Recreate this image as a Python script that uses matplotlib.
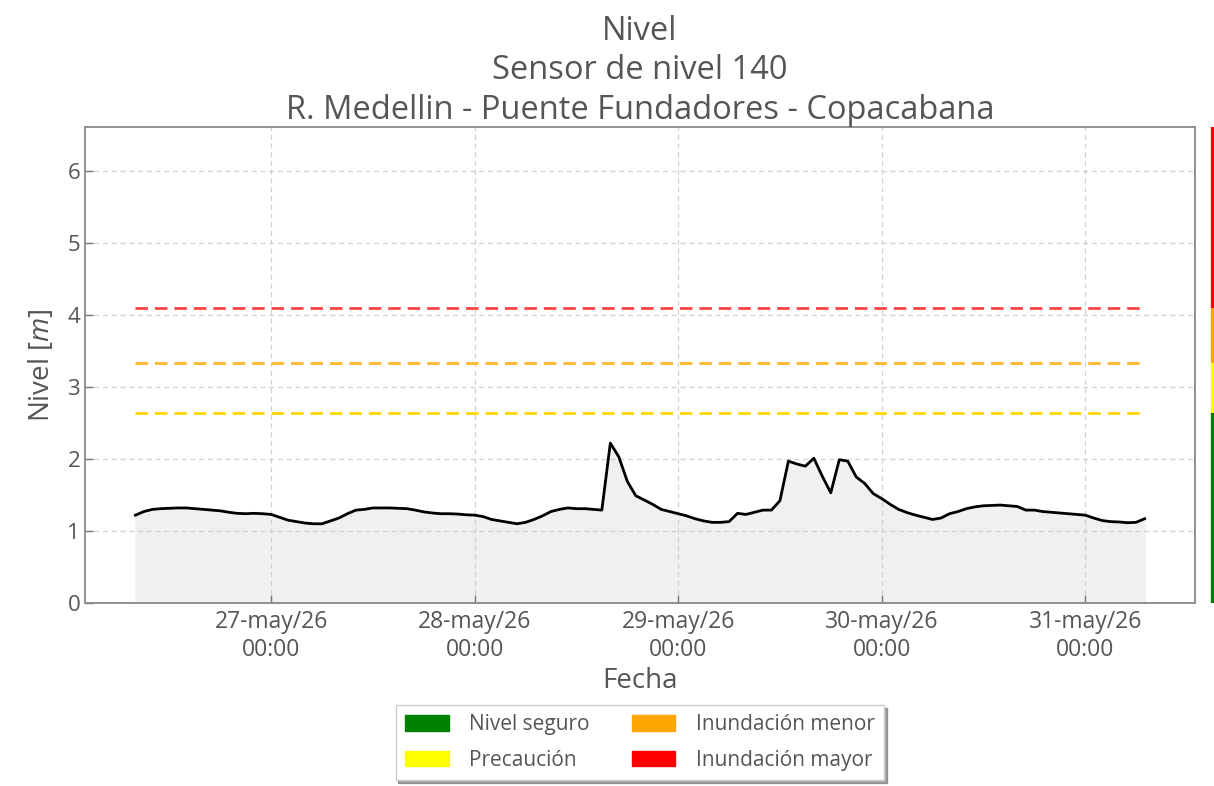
import matplotlib
matplotlib.use("Agg")
import matplotlib.pyplot as plt
import matplotlib.dates as mdates
import matplotlib.transforms as mtransforms
from matplotlib.patches import Patch
import numpy as np
import pandas as pd

# hourly level readings, 26-may 08:00 .. 31-may 07:00
start_time = "2026-05-26 08:00"
nivel = [
    1.22, 1.27, 1.30, 1.31, 1.315, 1.32, 1.32, 1.31, 1.30, 1.29,
    1.28, 1.26, 1.245, 1.24, 1.245, 1.24, 1.23, 1.19, 1.15, 1.13,
    1.11, 1.10, 1.10, 1.14, 1.18, 1.24, 1.29, 1.30, 1.32, 1.32,
    1.32, 1.315, 1.31, 1.29, 1.265, 1.25, 1.24, 1.24, 1.235, 1.225,
    1.22, 1.20, 1.16, 1.14, 1.12, 1.10, 1.12, 1.16, 1.21, 1.27,
    1.30, 1.32, 1.31, 1.31, 1.30, 1.29, 2.22, 2.03, 1.69, 1.49,
    1.43, 1.37, 1.30, 1.27, 1.24, 1.21, 1.17, 1.14, 1.12, 1.12,
    1.13, 1.245, 1.23, 1.26, 1.29, 1.29, 1.42, 1.97, 1.93, 1.90,
    2.01, 1.76, 1.53, 1.99, 1.97, 1.75, 1.66, 1.52, 1.45, 1.37,
    1.30, 1.255, 1.22, 1.19, 1.16, 1.18, 1.24, 1.27, 1.31, 1.335,
    1.35, 1.355, 1.36, 1.35, 1.34, 1.29, 1.29, 1.27, 1.26, 1.25,
    1.24, 1.23, 1.22, 1.18, 1.145, 1.13, 1.125, 1.115, 1.12, 1.17,
]
fechas = pd.date_range(start_time, periods=len(nivel), freq="h")

# thresholds
umbral_nombres = ["Nivel seguro", "Precaución", "Inundación menor", "Inundación mayor"]
umbral_colores = ["#008000", "#ffff00", "#ffa500", "#ff0000"]
umbral_valores = [2.64, 3.33, 4.10]  # precaucion, menor, mayor
umbral_lineas = ["#ffd700", "#ffb52e", "#ff4444"]
meses = ["ene", "feb", "mar", "abr", "may", "jun", "jul", "ago", "sep", "oct", "nov", "dic"]

gris = "#555555"
plt.rcParams["font.family"] = ["Open Sans", "DejaVu Sans"]
plt.rcParams["mathtext.fontset"] = "custom"
plt.rcParams["mathtext.it"] = "Open Sans:italic"
plt.rcParams["mathtext.rm"] = "Open Sans"

fig = plt.figure(figsize=(12.14, 7.86), dpi=100)
ax = fig.add_axes([85 / 1214, 1 - 603 / 786, 1110 / 1214, 476 / 786])

ax.fill_between(fechas, 0, nivel, color="#f0f0f0", zorder=1)
ax.plot(fechas, nivel, color="black", lw=2, zorder=3)
for val, col in zip(umbral_valores, umbral_lineas):
    ax.hlines(val, fechas[0], fechas[-1], colors=col, linestyles=(0, (4.5, 2.5)), lw=2, zorder=2)

ax.set_ylim(0, 6.61)
ax.margins(x=0.05)
ax.set_yticks(range(0, 7))

def fmt_fecha(x, pos=None):
    d = mdates.num2date(x)
    return f"{d.day:02d}-{meses[d.month - 1]}/{d.strftime('%y')}\n{d.strftime('%H:%M')}"

ax.xaxis.set_major_locator(mdates.DayLocator())
ax.xaxis.set_major_formatter(plt.FuncFormatter(fmt_fecha))

ax.grid(True, ls=(0, (4, 3)), color="#d0d0d0", lw=0.9, zorder=0)
ax.tick_params(direction="in", length=6, width=1, colors="#777777", labelcolor=gris, labelsize=16)
ax.tick_params(axis="x", pad=5, labelsize=16.5)
for s in ax.spines.values():
    s.set_color("#888888")
    s.set_linewidth(1.3)

ax.set_xlabel("Fecha", fontsize=20, color=gris, labelpad=4)
ax.set_ylabel("Nivel [$m$]", fontsize=20, color=gris, labelpad=8)
ax.set_title("Nivel\nSensor de nivel 140\nR. Medellin - Puente Fundadores - Copacabana",
             fontsize=23.5, color=gris, pad=6, linespacing=1.25)

# colour stripe on the right side
trans = mtransforms.blended_transform_factory(ax.transAxes, ax.transData)
bordes = [0] + umbral_valores + [6.61]
for i, col in enumerate(umbral_colores):
    ax.plot([1.018, 1.018], [bordes[i], bordes[i + 1]], color=col, lw=6,
            solid_capstyle="butt", transform=trans, clip_on=False)

handles = [Patch(facecolor=c, edgecolor=c) for c in umbral_colores]
leg = fig.legend(handles, umbral_nombres, loc="upper center", ncol=2,
                 bbox_to_anchor=(640 / 1214, 1 - 705 / 786), fontsize=15,
                 shadow=True, fancybox=False, handlelength=2.1, handleheight=0.75,
                 columnspacing=2.0, handletextpad=1.0, labelspacing=0.7,
                 borderpad=0.45, borderaxespad=0)
for t in leg.get_texts():
    t.set_color(gris)
leg.get_frame().set_edgecolor("#cccccc")

fig.savefig("out.png", dpi=100)
